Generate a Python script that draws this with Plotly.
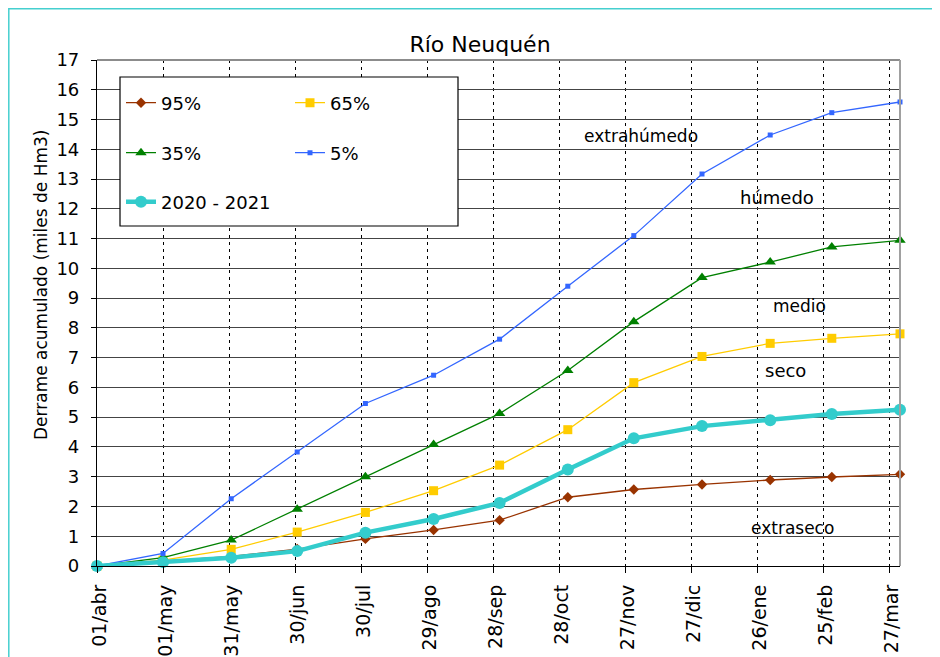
import plotly.graph_objects as go

# ---- data ----
dates = ["2020-04-01", "2020-05-01", "2020-06-01", "2020-07-01", "2020-08-01", "2020-09-01",
         "2020-10-01", "2020-11-01", "2020-12-01", "2021-01-01", "2021-02-01", "2021-03-01",
         "2021-04-01"]
p95 = [0, 0.15, 0.32, 0.57, 0.91, 1.21, 1.54, 2.31, 2.57, 2.74, 2.89, 2.99, 3.08]
p65 = [0, 0.2, 0.56, 1.14, 1.8, 2.53, 3.39, 4.58, 6.16, 7.04, 7.48, 7.65, 7.8]
p35 = [0, 0.28, 0.87, 1.91, 3.0, 4.08, 5.12, 6.57, 8.21, 9.69, 10.21, 10.72, 10.94]
p5 = [0, 0.42, 2.26, 3.83, 5.46, 6.41, 7.62, 9.4, 11.1, 13.17, 14.48, 15.23, 15.59]
y2020 = [0, 0.13, 0.28, 0.5, 1.12, 1.58, 2.12, 3.24, 4.29, 4.7, 4.9, 5.11, 5.25]

tick_dates = ["2020-04-01", "2020-05-01", "2020-05-31", "2020-06-30", "2020-07-30", "2020-08-29",
              "2020-09-28", "2020-10-28", "2020-11-27", "2020-12-27", "2021-01-26", "2021-02-25",
              "2021-03-27"]
tick_labels = ["01/abr", "01/may", "31/may", "30/jun", "30/jul", "29/ago", "28/sep", "28/oct",
               "27/nov", "27/dic", "26/ene", "25/feb", "27/mar"]

zone_labels = ["extrahúmedo", "húmedo", "medio", "seco", "extraseco"]
zone_y = [14.45, 12.37, 8.74, 6.56, 1.29]

FONT = "DejaVu Sans"

fig = go.Figure()

series = [
    ("95%", p95, "#993300", dict(symbol="diamond", size=8), 1.3, "legend"),
    ("65%", p65, "#FFCC00", dict(symbol="square", size=9), 1.3, "legend2"),
    ("35%", p35, "#008000", dict(symbol="triangle-up", size=10), 1.3, "legend3"),
    ("5%", p5, "#3366FF", dict(symbol="square", size=5), 1.3, "legend4"),
    ("2020 - 2021", y2020, "#33CCCC", dict(symbol="circle", size=12), 4.5, "legend5"),
]
for name, vals, color, mk, lw, lg in series:
    fig.add_trace(go.Scatter(
        x=dates, y=vals, name=name, mode="lines+markers",
        line=dict(color=color, width=lw),
        marker=dict(color=color, line=dict(width=0), **mk),
        cliponaxis=False, legend=lg,
    ))

# page offset (body margin) of 8px: reference pixel coords -> figure coords
OFF = 8
W, H = 940, 657
PL, PR, PT, PB = 97, 900, 60, 566          # plot area in reference pixel coords
L, R, T, B = PL - OFF, W - (PR - OFF), PT - OFF, H - (PB - OFF)
pw, ph = PR - PL, PB - PT


def px_x(px):
    return (px - PL) / pw


def px_y(py):
    return (PB - py) / ph


legend_common = dict(bgcolor="rgba(0,0,0,0)", borderwidth=0, xanchor="left", yanchor="middle",
                     font=dict(family=FONT, size=18, color="#000"))
col1, col2 = 121, 290
row1, row2, row3 = 103, 153, 202
fig.update_layout(
    legend=dict(x=px_x(col1), y=px_y(row1), **legend_common),
    legend2=dict(x=px_x(col2), y=px_y(row1), **legend_common),
    legend3=dict(x=px_x(col1), y=px_y(row2), **legend_common),
    legend4=dict(x=px_x(col2), y=px_y(row2), **legend_common),
    legend5=dict(x=px_x(col1), y=px_y(row3), **legend_common),
)

shapes = [
    # legend box
    dict(type="rect", xref="paper", yref="paper", x0=px_x(120), x1=px_x(458),
         y0=px_y(226), y1=px_y(77), fillcolor="white", line=dict(color="#000", width=1.2),
         layer="above"),
    # top and right plot border
    dict(type="line", xref="paper", yref="paper", x0=0, x1=1, y0=1, y1=1,
         line=dict(color="#8c8c8c", width=2)),
    dict(type="line", xref="paper", yref="paper", x0=1, x1=1, y0=0, y1=1,
         line=dict(color="#a0a0a0", width=2)),
    # outer chart border
    dict(type="rect", xref="paper", yref="paper", x0=px_x(8.8), x1=px_x(980),
         y0=px_y(700), y1=px_y(8.8), line=dict(color="#45CFCF", width=1.5),
         fillcolor="rgba(0,0,0,0)"),
]

annotations = []
zone_x = [641, 777, 799, 785, 792]
zone_size = [17, 18, 17, 18, 17]
for txt, xv, yv, fs in zip(zone_labels, zone_x, zone_y, zone_size):
    annotations.append(dict(text=txt, xref="paper", x=px_x(xv), yref="y", y=yv,
                            showarrow=False, xanchor="center", yanchor="middle",
                            font=dict(family=FONT, size=fs, color="#000")))
annotations.append(dict(text="Derrame acumulado (miles de Hm3)", xref="paper", yref="paper",
                        x=px_x(41), y=px_y(285), textangle=-90, showarrow=False,
                        xanchor="center", yanchor="middle",
                        font=dict(family=FONT, size=17, color="#000")))

fig.update_layout(
    template="none",
    width=W, height=H,
    margin=dict(l=L, r=R, t=T, b=B),
    paper_bgcolor="white", plot_bgcolor="white",
    title=dict(text="Río Neuquén", x=(480 - OFF) / W, xref="container", xanchor="center",
               y=1 - (44 - OFF) / H, yref="container", yanchor="middle",
               font=dict(family=FONT, size=22, color="#000")),
    shapes=shapes,
    annotations=annotations,
    showlegend=True,
)

fig.update_xaxes(
    type="date", range=["2020-04-01", "2021-04-01"], automargin=False,
    tickmode="array", tickvals=tick_dates, ticktext=tick_labels, tickangle=-90,
    tickfont=dict(family=FONT, size=19, color="#000"),
    ticks="outside", ticklen=6, tickcolor="#000", tickwidth=1,
    showline=True, linecolor="#000", linewidth=1.2,
    showgrid=True, gridcolor="#000", gridwidth=1, griddash="3px,4px",
    zeroline=False, ticklabelstandoff=4, ticklabelshift=3,
)
fig.update_yaxes(
    range=[0, 17], automargin=False, tickmode="linear", tick0=0, dtick=1,
    tickfont=dict(family=FONT, size=18, color="#000"),
    ticks="outside", ticklen=5, tickcolor="#000", tickwidth=1,
    showline=True, linecolor="#000", linewidth=1.2,
    showgrid=True, gridcolor="#444", gridwidth=1,
    zeroline=False, ticklabelstandoff=8,
)

fig.write_html("out.html")
